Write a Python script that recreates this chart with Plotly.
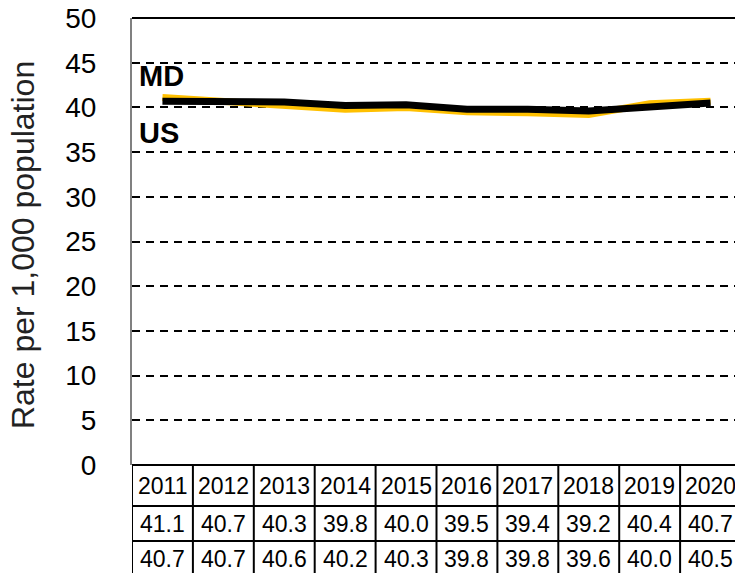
import plotly.graph_objects as go

# =========================================
#  Datos
# =========================================
YEARS = ["2011", "2012", "2013", "2014", "2015", "2016", "2017", "2018", "2019", "2020"]
MD_RATE = [41.1, 40.7, 40.3, 39.8, 40.0, 39.5, 39.4, 39.2, 40.4, 40.7]
US_RATE = [40.7, 40.7, 40.6, 40.2, 40.3, 39.8, 39.8, 39.6, 40.0, 40.5]
SERIES_NAMES = ["MD", "US"]

GOLD = "#FFC000"
BLACK = "#000000"
FONT = "Liberation Sans, Arial, sans-serif"

# posiciones de filas de la tabla (papel, debajo del área de trazado)
ROW_LINES = [0.0, -0.0917, -0.170, -0.248]
ROW_CENTERS = [-0.0459, -0.1309, -0.2092]
LABEL_LEFT = -2.295  # borde izquierdo de la columna de etiquetas (en unidades x)

x_idx = list(range(len(YEARS)))

fig = go.Figure()
fig.add_trace(go.Scatter(x=x_idx, y=MD_RATE, mode="lines", name="MD",
                         line=dict(color=GOLD, width=7)))
fig.add_trace(go.Scatter(x=x_idx, y=US_RATE, mode="lines", name="US",
                         line=dict(color=BLACK, width=7)))

shapes = []
annotations = []

# borde superior del área
shapes.append(dict(type="line", xref="paper", yref="paper", x0=0, x1=1, y0=1, y1=1,
                   line=dict(color=BLACK, width=2)))

# tabla de datos: líneas horizontales
shapes.append(dict(type="line", xref="x", yref="paper", x0=-0.5, x1=9.5,
                   y0=ROW_LINES[0], y1=ROW_LINES[0], line=dict(color=BLACK, width=2)))
for yl in ROW_LINES[1:]:
    shapes.append(dict(type="line", xref="x", yref="paper", x0=LABEL_LEFT, x1=9.5,
                       y0=yl, y1=yl, line=dict(color=BLACK, width=2)))
# líneas verticales
for i in range(len(YEARS) + 1):
    shapes.append(dict(type="line", xref="x", yref="paper", x0=i - 0.5, x1=i - 0.5,
                       y0=ROW_LINES[0], y1=ROW_LINES[-1], line=dict(color=BLACK, width=2)))
shapes.append(dict(type="line", xref="x", yref="paper", x0=LABEL_LEFT, x1=LABEL_LEFT,
                   y0=ROW_LINES[1], y1=ROW_LINES[-1], line=dict(color=BLACK, width=2)))

# años
for i, yr in enumerate(YEARS):
    annotations.append(dict(x=i, y=ROW_CENTERS[0], xref="x", yref="paper", text=yr,
                            xanchor="center", yanchor="middle",
                            showarrow=False, font=dict(size=23, color=BLACK)))

# filas de valores + leyenda
for r, (name, vals, col) in enumerate(zip(SERIES_NAMES, [MD_RATE, US_RATE], [GOLD, BLACK])):
    yc = ROW_CENTERS[r + 1]
    for i, v in enumerate(vals):
        annotations.append(dict(x=i, y=yc, xref="x", yref="paper", text=f"{v:.1f}",
                                xanchor="center", yanchor="middle",
                                showarrow=False, font=dict(size=23, color=BLACK)))
    annotations.append(dict(x=-0.64, y=yc, xref="x", yref="paper", text=name,
                            xanchor="right", yanchor="middle",
                            showarrow=False, font=dict(size=23, color=BLACK)))
    shapes.append(dict(type="line", xref="x", yref="paper", x0=-2.2, x1=-1.27,
                       y0=yc, y1=yc, line=dict(color=col, width=7)))

# etiquetas de serie
annotations.append(dict(x=0.008, y=43.5, xref="paper", yref="y", text="<b>MD</b>",
                        xanchor="left", yanchor="middle", showarrow=False,
                        font=dict(size=29, color=BLACK)))
annotations.append(dict(x=0.008, y=37.1, xref="paper", yref="y", text="<b>US</b>",
                        xanchor="left", yanchor="middle", showarrow=False,
                        font=dict(size=29, color=BLACK)))

# título eje y
annotations.append(dict(x=-0.1790, y=0.492, xref="paper", yref="paper",
                        text="Rate per 1,000 population", textangle=-90,
                        xanchor="center", yanchor="middle",
                        showarrow=False, font=dict(size=32, color="#222222")))

fig.update_layout(
    width=735, height=565,
    margin=dict(l=124, r=2, t=10, b=108),
    paper_bgcolor="white", plot_bgcolor="white",
    font=dict(family=FONT, color=BLACK),
    showlegend=False,
    shapes=shapes,
    annotations=annotations,
    xaxis=dict(range=[-0.5, 9.5], showticklabels=False, showgrid=False,
               zeroline=False, showline=False, fixedrange=True, automargin=False),
    yaxis=dict(range=[0, 50], dtick=5, tickfont=dict(size=28, color=BLACK),
               showgrid=True, gridcolor=BLACK, gridwidth=2, griddash="8px,6px",
               zeroline=False, showline=True, linecolor="#808080", linewidth=2,
               ticks="", ticklabelstandoff=28, ticklabeloverflow="allow",
               automargin=False, fixedrange=True),
)

fig.write_html("out.html")
